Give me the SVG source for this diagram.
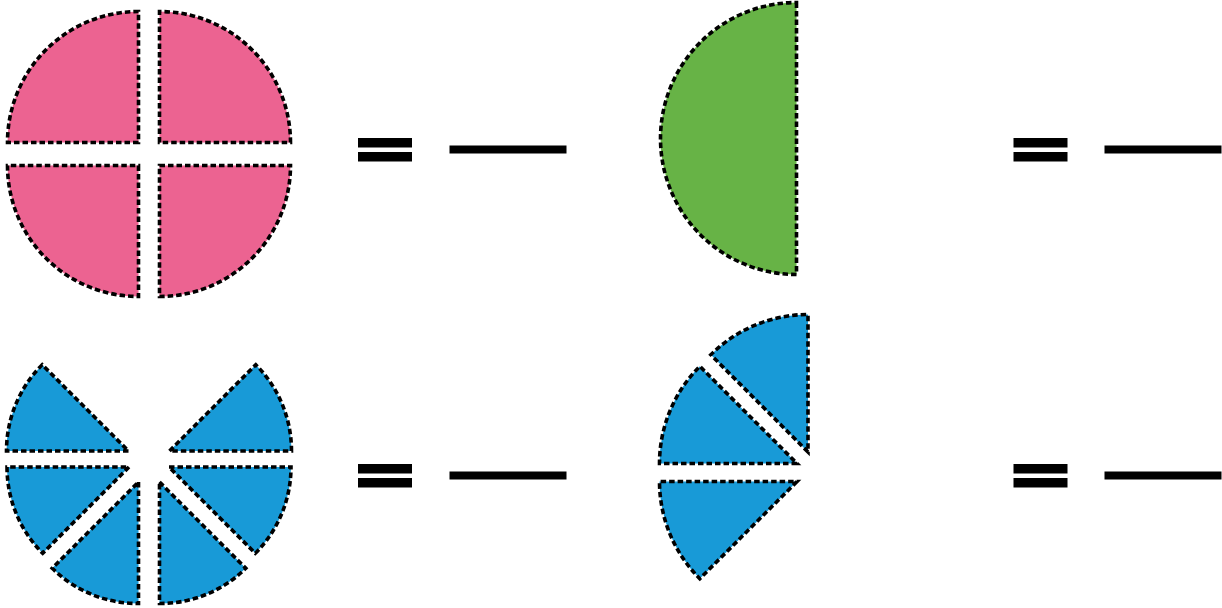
<svg xmlns="http://www.w3.org/2000/svg" width="1222" height="608" viewBox="0 0 1222 608">
<style>
.piece{stroke:#000;stroke-width:3.6;stroke-dasharray:5.5 3;stroke-linejoin:miter}
.pink{fill:#EC6391}
.green{fill:#67B346}
.blue{fill:#189AD7}
.bar{fill:#000}
</style>
<rect width="1222" height="608" fill="#fff"/>
<g id="pink-circle">
<path class="piece pink" d="M138.5,142.5 L7.5,142.5 A131,131 0 0 1 138.5,11.5 Z"/>
<path class="piece pink" d="M159.5,142.5 L159.5,11.5 A131,131 0 0 1 290.5,142.5 Z"/>
<path class="piece pink" d="M138.5,165.5 L138.5,296.5 A131,131 0 0 1 7.5,165.5 Z"/>
<path class="piece pink" d="M159.5,165.5 L290.5,165.5 A131,131 0 0 1 159.5,296.5 Z"/>
</g>
<g id="equals-1">
<rect class="bar" x="358" y="138" width="54" height="9.5"/>
<rect class="bar" x="358" y="152" width="54" height="9.5"/>
<rect class="bar" x="449.5" y="145.5" width="117" height="8"/>
</g>
<g id="green-half">
<path class="piece green" d="M796.5,2.5 L796.5,274.5 A136,136 0 0 1 796.5,2.5 Z"/>
</g>
<g id="equals-2">
<rect class="bar" x="1013.5" y="138" width="54" height="9.5"/>
<rect class="bar" x="1013.5" y="152" width="54" height="9.5"/>
<rect class="bar" x="1104.5" y="145.5" width="117" height="8"/>
</g>
<g id="blue-circle">
<path class="piece blue" d="M128.5,451 L6.5,451 A122,122 0 0 1 42.2,364.7 Z"/>
<path class="piece blue" d="M169.5,451 L255.8,364.7 A122,122 0 0 1 291.5,451 Z"/>
<path class="piece blue" d="M129,467 L42.7,553.3 A122,122 0 0 1 7,467 Z"/>
<path class="piece blue" d="M169,467 L291,467 A122,122 0 0 1 255.3,553.3 Z"/>
<path class="piece blue" d="M138.5,482 L138.5,603.5 A122,122 0 0 1 52.2,568.3 Z"/>
<path class="piece blue" d="M159.5,482 L245.8,568.3 A122,122 0 0 1 159.5,603.5 Z"/>
</g>
<g id="equals-3">
<rect class="bar" x="358" y="464" width="54" height="9.5"/>
<rect class="bar" x="358" y="478" width="54" height="9.5"/>
<rect class="bar" x="449.5" y="471.5" width="117" height="8"/>
</g>
<g id="blue-partial">
<path class="piece blue" d="M808,452 L710.8,354.8 A137.5,137.5 0 0 1 808,314.5 Z"/>
<path class="piece blue" d="M797,463.5 L659.5,463.5 A137.5,137.5 0 0 1 699.8,366.3 Z"/>
<path class="piece blue" d="M797,481.5 L699.8,578.7 A137.5,137.5 0 0 1 659.5,481.5 Z"/>
</g>
<g id="equals-4">
<rect class="bar" x="1013.5" y="464" width="54" height="9.5"/>
<rect class="bar" x="1013.5" y="478" width="54" height="9.5"/>
<rect class="bar" x="1104.5" y="471.5" width="117" height="8"/>
</g>
<g id="connectors"/>
</svg>
